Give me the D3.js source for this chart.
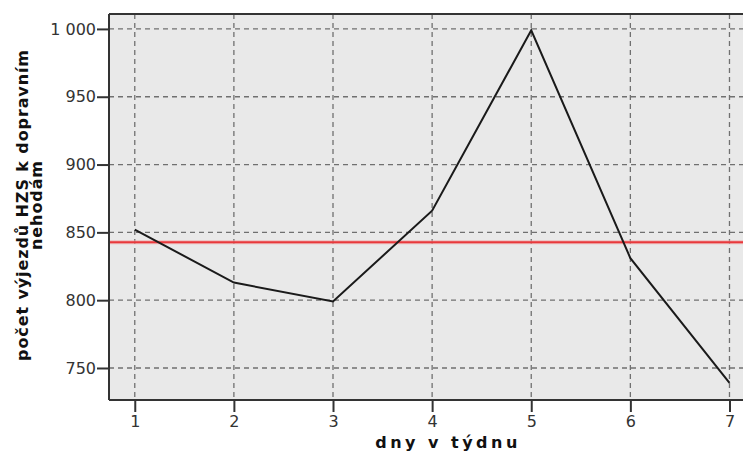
<!DOCTYPE html>
<html>
<head>
<meta charset="utf-8">
<script src="https://cdn.jsdelivr.net/npm/d3@7"></script>
<style>
  html, body { margin: 0; padding: 0; background: #fff; }
  svg { display: block; }
  text { font-family: "DejaVu Sans", Verdana, sans-serif; }
</style>
</head>
<body>
<div id="chart"></div>
<script>
// Days of the week and number of fire-brigade (HZS) call-outs to traffic accidents
const days = [1, 2, 3, 4, 5, 6, 7];
const callouts = [852, 813, 799, 866, 999, 831, 739];
const yTicks = [750, 800, 850, 900, 950, 1000];
const xTitle = "dny v týdnu";
const yTitleLines = ["počet výjezdů HZS k dopravním", "nehodám"];

const width = 743, height = 459;
const margin = { top: 14, left: 109, bottom: 59 };
const plotRight = 783;           // plot area runs past the right edge of the page
const plotBottom = height - margin.bottom;

const svg = d3.select("#chart").append("svg")
  .attr("width", width).attr("height", height);

const x = d3.scaleLinear().domain([0.74, 7.54]).range([margin.left, plotRight]);
const y = d3.scaleLinear().domain([726.4, 1011]).range([plotBottom, margin.top]);

const locale = d3.formatLocale({ decimal: ",", thousands: "\u00a0", grouping: [3], currency: ["", " Kč"] });
const fmt = locale.format(",d");

// plot background
svg.append("rect")
  .attr("x", margin.left).attr("y", margin.top)
  .attr("width", plotRight - margin.left).attr("height", plotBottom - margin.top)
  .attr("fill", "#e9e9e9");

// dashed grid
const grid = svg.append("g").attr("stroke", "#707070").attr("stroke-width", 1.3)
  .attr("stroke-dasharray", "5,4");
grid.selectAll("line.h").data(yTicks).join("line").attr("class", "h")
  .attr("x1", margin.left).attr("x2", plotRight)
  .attr("y1", d => y(d)).attr("y2", d => y(d));
grid.selectAll("line.v").data(days).join("line").attr("class", "v")
  .attr("y1", margin.top).attr("y2", plotBottom)
  .attr("x1", d => x(d)).attr("x2", d => x(d));

// mean reference line
const mean = d3.mean(callouts);
svg.append("line")
  .attr("x1", margin.left).attr("x2", plotRight)
  .attr("y1", y(mean)).attr("y2", y(mean))
  .attr("stroke", "#f0a0a0").attr("stroke-width", 4).attr("opacity", 0.6);
svg.append("line")
  .attr("x1", margin.left).attr("x2", plotRight)
  .attr("y1", y(mean)).attr("y2", y(mean))
  .attr("stroke", "#e8393c").attr("stroke-width", 1.8);

// data line
svg.append("path")
  .datum(days.map((d, i) => [d, callouts[i]]))
  .attr("fill", "none").attr("stroke", "#1a1a1a").attr("stroke-width", 2)
  .attr("stroke-linejoin", "miter")
  .attr("d", d3.line().x(d => x(d[0])).y(d => y(d[1])));

// frame: top edge
svg.append("line").attr("x1", margin.left).attr("x2", plotRight)
  .attr("y1", margin.top).attr("y2", margin.top)
  .attr("stroke", "#333").attr("stroke-width", 2);

// axes
const yAxis = svg.append("g").attr("transform", `translate(${margin.left},0)`)
  .call(d3.axisLeft(y).tickValues(yTicks).tickFormat(fmt).tickSize(12).tickPadding(1));
const xAxis = svg.append("g").attr("transform", `translate(0,${plotBottom})`)
  .call(d3.axisBottom(x).tickValues(days).tickFormat(d3.format("d")).tickSize(12).tickPadding(4));

[yAxis, xAxis].forEach(g => {
  g.select(".domain").attr("stroke", "#333").attr("stroke-width", 2);
  g.selectAll(".tick line").attr("stroke", "#333").attr("stroke-width", 2);
  g.selectAll(".tick text").attr("fill", "#333")
    .style("font-family", "'DejaVu Sans', Verdana, sans-serif").style("font-size", "16px");
});
yAxis.select(".domain").attr("d", `M0,${margin.top}V${plotBottom}`);
xAxis.select(".domain").attr("d", `M${margin.left},0H${plotRight}`);

// axis titles
svg.append("text")
  .attr("x", (margin.left + plotRight) / 2 + 2).attr("y", 448)
  .attr("text-anchor", "middle")
  .style("font-size", "16px").style("font-weight", "bold")
  .style("letter-spacing", "3.5px").attr("fill", "#111")
  .text(xTitle);

const yTitle = svg.append("text")
  .attr("transform", "translate(0,205) rotate(-90)")
  .attr("text-anchor", "middle")
  .style("font-size", "16px").style("font-weight", "bold")
  .style("letter-spacing", "0.9px").attr("fill", "#111");
yTitle.selectAll("tspan").data(yTitleLines).join("tspan")
  .attr("x", 0).attr("y", (d, i) => 28 + i * 14)
  .text(d => d);
</script>
</body>
</html>
